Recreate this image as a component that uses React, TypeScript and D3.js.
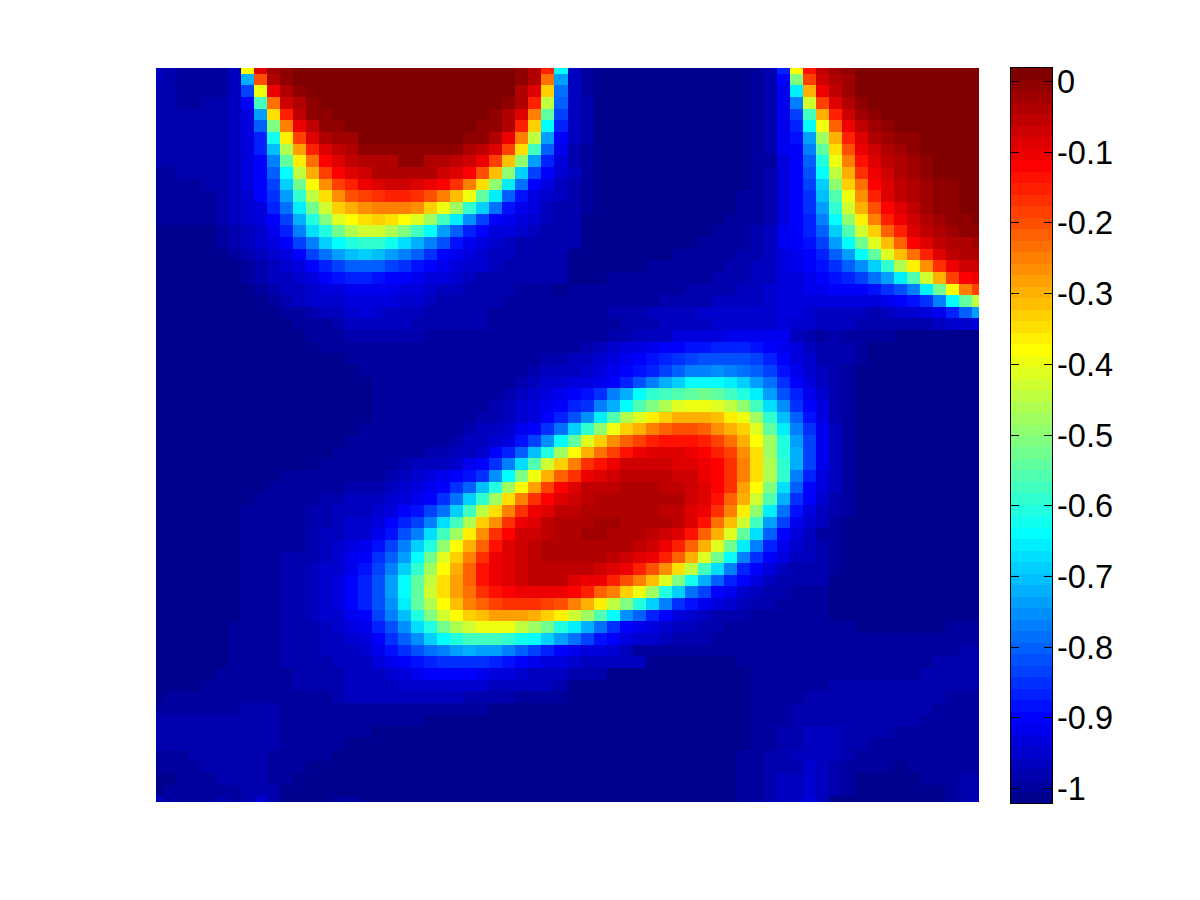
import React from "react";
import * as d3 from "d3";

// Colormap level (0..63 of the 64-level jet map) read for every grid node, row by row.
const row00=[3,2,1,1,1,1,3,39,57,61,62,63,63,63,63,63, 63,63,63,63,63,63,63,63,63,63,63,63,62,60,53,23, 3,1,0,0,0,0,0,0,0,0,0,0,0,0,1,2, 9,39,54,59,61,62,63,63,63,63,63,63,63,63,63,63];
const row01=[3,2,1,1,1,1,3,18,50,60,62,63,63,63,63,63, 63,63,63,63,63,63,63,63,63,63,63,63,62,60,48,17, 3,1,0,0,0,0,0,0,0,0,0,0,0,0,1,2, 7,31,51,58,60,61,63,63,63,63,63,63,63,63,63,63];
const row02=[2,2,1,1,1,1,3,11,38,56,60,62,63,63,63,63, 63,63,63,63,63,63,63,63,63,63,63,63,60,57,42,14, 3,1,0,0,0,0,0,0,0,0,0,0,0,0,1,2, 6,22,44,56,59,61,63,63,63,63,63,63,63,63,63,63];
const row03=[2,2,1,1,2,2,3,7,27,48,58,60,62,63,63,63, 63,63,63,63,63,63,63,63,63,63,63,62,60,53,35,13, 3,2,0,0,0,0,0,0,0,0,0,0,0,0,1,2, 6,15,36,51,57,60,62,63,63,63,63,63,63,63,63,63];
const row04=[2,2,2,2,2,2,3,5,17,41,53,59,62,62,63,63, 63,63,63,63,63,63,63,63,63,63,62,60,57,47,29,11, 3,2,0,0,0,0,0,0,0,0,0,0,0,0,1,2, 6,11,27,44,53,58,61,62,63,63,63,63,63,63,63,63];
const row05=[2,2,2,2,2,2,3,5,13,31,47,56,59,62,62,63, 63,63,63,63,63,63,63,63,63,62,62,60,53,42,23,9, 3,2,0,0,0,0,0,0,0,0,0,0,0,0,1,2, 6,9,23,38,49,56,59,61,62,63,63,63,63,63,63,63];
const row06=[2,2,2,2,2,2,3,5,9,24,40,51,57,60,61,61, 63,63,63,63,63,63,63,63,62,62,60,56,47,35,17,7, 3,2,0,0,0,0,0,0,0,0,0,0,0,0,1,2, 6,8,17,33,44,53,57,60,61,62,62,63,63,63,63,63];
const row07=[2,2,2,2,2,2,3,5,9,19,34,45,53,57,59,60, 62,62,62,62,62,62,62,62,60,59,57,51,41,27,13,6, 2,1,0,0,0,0,0,0,0,0,0,0,0,0,1,2, 6,7,15,29,41,50,56,58,60,61,62,63,63,63,63,63];
const row08=[2,2,2,2,2,2,3,5,7,15,29,40,48,55,57,59, 60,60,60,62,62,60,60,59,58,56,51,43,32,17,9,5, 2,1,0,0,0,0,0,0,0,0,0,0,0,0,1,1, 5,7,13,25,38,47,54,57,59,60,61,62,63,63,63,63];
const row09=[1,1,2,2,2,2,3,5,7,13,23,35,44,51,55,57, 58,60,60,60,60,60,58,57,55,50,43,32,20,11,7,4, 3,1,0,0,0,0,0,0,0,0,0,0,0,0,1,2, 5,7,12,23,35,44,52,56,58,60,61,62,63,63,63,63];
const row10=[1,1,1,1,2,2,3,5,7,11,20,30,39,46,51,53, 56,57,58,58,57,56,55,52,47,41,32,22,14,7,5,3, 2,1,0,0,0,0,0,0,0,0,0,0,0,0,1,2, 5,7,11,20,32,42,48,55,57,59,60,61,62,62,63,63];
const row11=[1,1,1,1,1,2,3,4,7,10,17,26,35,41,46,50, 51,52,53,53,52,50,47,43,38,29,22,13,8,5,4,3, 2,1,0,0,0,0,0,0,0,0,0,0,0,1,1,2, 5,7,10,19,28,38,46,53,57,59,60,61,62,62,63,63];
const row12=[1,1,1,1,1,2,3,4,5,9,14,22,30,36,42,44, 46,47,47,47,46,42,38,33,26,20,14,8,6,5,3,2, 2,1,0,0,0,0,0,0,0,0,0,0,0,1,1,2, 5,7,10,17,26,36,44,50,55,57,59,61,62,62,63,63];
const row13=[1,1,1,1,1,2,3,4,5,7,11,18,25,31,37,39, 41,42,41,39,37,33,27,22,16,11,7,6,5,4,3,2, 2,0,0,0,0,0,0,0,0,0,0,0,1,1,1,2, 5,7,9,15,23,32,40,47,53,56,58,60,61,62,62,63];
const row14=[0,0,0,0,0,1,2,3,4,6,9,15,21,25,30,34, 36,36,34,31,27,23,17,13,9,7,5,5,4,3,2,2, 2,0,0,0,0,0,0,0,0,0,0,1,1,1,2,3, 6,7,9,13,20,28,36,42,49,53,57,59,60,61,62,62];
const row15=[0,0,0,0,0,1,2,3,4,5,7,11,15,20,23,25, 26,26,24,21,18,15,12,8,6,5,4,3,2,2,2,2, 2,0,0,0,0,0,0,0,0,0,1,1,1,1,2,3, 6,7,8,11,17,23,30,37,43,49,55,57,59,60,60,61];
const row16=[0,0,0,0,0,0,1,2,3,4,5,7,11,14,17,19, 20,19,17,15,13,10,7,6,5,4,3,3,2,2,2,2, 0,0,0,0,0,0,0,0,1,1,1,1,1,2,2,3, 5,6,7,9,13,17,23,29,37,43,48,53,57,59,60,60];
const row17=[0,0,0,0,0,0,0,1,2,3,4,5,7,9,11,13, 13,13,11,10,8,7,6,5,4,4,3,2,2,2,2,2, 0,0,0,0,0,0,1,1,1,1,1,1,2,2,3,3, 5,6,7,8,10,13,16,20,26,34,40,46,52,56,58,58];
const row18=[0,0,0,0,0,0,0,1,2,3,3,4,5,7,8,9, 9,8,7,7,6,5,5,4,3,2,2,2,2,2,2,2, 0,0,0,1,1,1,1,1,1,1,1,2,2,2,3,3, 5,5,6,7,8,9,11,14,17,22,28,36,44,51,55,56];
const row19=[0,0,0,0,0,0,0,0,1,2,3,3,4,5,5,6, 6,6,6,5,5,4,3,3,2,2,2,2,1,1,1,0, 1,1,1,1,1,1,1,1,1,2,2,2,2,3,3,4, 5,5,6,6,7,7,7,8,10,12,15,22,30,39,47,51];
const row20=[0,0,0,0,0,0,0,0,0,1,2,3,4,4,4,5, 5,5,5,4,4,3,2,2,2,2,2,1,1,1,1,1, 1,1,1,1,1,1,1,2,2,2,2,3,3,3,3,4, 5,5,5,5,5,5,5,5,6,7,8,10,15,23,29,35];
const row21=[0,0,0,0,0,0,0,0,0,0,1,1,2,3,3,4, 5,4,3,3,3,2,2,2,2,2,1,1,1,1,1,1, 1,1,1,2,2,2,3,3,3,3,4,4,4,4,4,4, 5,5,4,3,3,3,3,2,3,4,4,5,6,9,13,17];
const row22=[0,0,0,0,0,0,0,0,0,0,0,1,1,1,2,3, 3,3,3,3,2,2,2,2,2,2,1,1,1,1,1,1, 1,1,1,1,2,2,2,3,3,3,3,4,4,4,4,4, 5,4,4,3,3,3,2,2,2,2,2,2,3,4,4,5];
const row23=[0,0,0,0,0,0,0,0,0,0,0,0,1,1,1,2, 2,2,2,2,2,1,1,1,1,1,1,1,1,1,1,1, 1,1,1,2,2,3,3,3,5,5,5,5,6,6,6,6, 6,3,2,1,2,1,1,1,1,0,0,0,0,0,0,0];
const row24=[0,0,0,0,0,0,0,0,0,0,0,0,0,1,1,1, 1,1,1,1,1,1,1,1,1,1,1,1,1,1,1,1, 1,2,3,4,5,5,6,7,7,8,8,9,9,9,8,7, 6,5,3,2,2,2,1,0,0,0,0,0,0,0,0,0];
const row25=[0,0,0,0,0,0,0,0,0,0,0,0,0,0,0,1, 1,1,1,1,1,1,1,1,1,1,1,1,1,1,2,2, 3,3,4,5,6,7,8,9,10,11,12,12,12,12,11,9, 7,5,4,2,2,2,1,0,0,0,0,0,0,0,0,0];
const row26=[0,0,0,0,0,0,0,0,0,0,0,0,0,0,0,0, 1,1,1,1,1,1,1,1,1,1,1,1,1,2,3,3, 3,4,5,6,7,8,9,11,13,15,15,16,15,14,13,11, 8,6,4,3,2,1,0,0,0,0,0,0,0,0,0,0];
const row27=[0,0,0,0,0,0,0,0,0,0,0,0,0,0,0,0, 0,1,1,1,1,1,1,1,1,1,1,1,2,3,4,4, 5,5,6,7,9,12,15,18,20,23,23,23,22,20,17,14, 10,7,5,3,2,1,0,0,0,0,0,0,0,0,0,0];
const row28=[0,0,0,0,0,0,0,0,0,0,0,0,0,0,0,0, 0,1,1,1,1,1,1,1,1,1,1,2,3,4,5,6, 7,8,10,15,18,23,26,27,28,29,30,29,27,25,22,17, 12,9,6,4,2,1,0,0,0,0,0,0,0,0,0,0];
const row29=[0,0,0,0,0,0,0,0,0,0,0,0,0,0,0,0, 0,1,1,1,1,1,1,1,1,1,2,3,4,5,6,7, 9,10,15,18,23,28,31,34,37,38,38,37,35,32,27,21, 16,10,7,5,2,1,0,0,0,0,0,0,0,0,0,0];
const row30=[0,0,0,0,0,0,0,0,0,0,0,0,0,0,0,0, 0,1,1,1,1,1,1,1,1,2,2,3,4,5,7,9, 12,16,22,28,34,37,40,42,44,44,44,43,40,38,33,26, 19,13,8,5,2,1,0,0,0,0,0,0,0,0,0,0];
const row31=[0,0,0,0,0,0,0,0,0,0,0,0,0,0,0,0, 1,1,1,1,1,1,1,1,2,3,3,4,6,7,10,14, 20,26,32,38,42,44,47,49,50,50,49,46,44,42,37,29, 22,15,10,6,3,1,0,0,0,0,0,0,0,0,0,0];
const row32=[0,0,0,0,0,0,0,0,0,0,0,0,0,0,0,1, 1,1,1,1,1,1,1,2,3,3,4,5,8,11,16,23, 29,37,42,46,49,51,53,54,54,54,53,51,48,44,39,33, 25,17,11,6,3,1,0,0,0,0,0,0,0,0,0,0];
const row33=[0,0,0,0,0,0,0,0,0,0,0,0,0,0,1,1, 1,1,1,1,1,2,2,3,3,4,7,9,13,19,25,33, 39,44,48,51,54,56,57,57,57,56,55,53,51,46,41,33, 25,18,11,6,3,1,0,0,0,0,0,0,0,0,0,0];
const row34=[0,0,0,0,0,0,0,0,0,0,0,0,0,1,1,1, 1,1,1,2,3,3,3,4,6,7,10,15,21,28,36,42, 47,52,54,56,58,58,58,58,57,57,56,55,52,47,41,34, 26,18,11,6,3,1,0,0,0,0,0,0,0,0,0,0];
const row35=[0,0,0,0,0,0,0,0,0,0,1,1,1,1,1,1, 1,1,2,3,4,5,6,7,8,10,16,23,31,38,44,49, 52,56,57,58,59,59,59,59,58,58,56,55,52,47,41,34, 26,15,9,5,3,1,0,0,0,0,0,0,0,0,0,0];
const row36=[0,0,0,0,0,0,0,0,0,1,1,1,1,1,1,2, 2,2,3,4,5,6,7,10,13,19,25,33,39,45,51,55, 57,59,59,59,60,60,60,59,59,58,57,55,52,45,39,31, 21,13,7,5,3,1,0,0,0,0,0,0,0,0,0,0];
const row37=[0,0,0,0,0,0,0,0,1,1,1,1,1,2,2,3, 3,3,4,5,6,7,10,14,20,26,33,41,47,52,55,57, 58,59,60,60,60,60,60,60,60,58,57,54,49,44,36,28, 18,10,7,4,2,1,0,0,0,0,0,0,0,0,0,0];
const row38=[0,0,0,0,0,0,0,1,1,1,1,1,2,2,3,3, 3,4,5,7,8,11,14,20,27,35,41,47,52,56,57,59, 59,60,60,60,60,60,60,59,59,57,56,52,47,40,32,22, 14,8,5,3,2,1,0,0,0,0,0,0,0,0,0,0];
const row39=[0,0,0,0,0,0,0,1,1,1,1,1,2,2,3,4, 4,5,7,9,11,15,21,27,34,42,46,52,56,57,59,60, 60,60,61,61,60,60,60,60,59,57,54,48,43,36,27,17, 11,6,4,3,1,0,0,0,0,0,0,0,0,0,0,0];
const row40=[0,0,0,0,0,0,0,1,1,1,1,1,2,3,3,4, 4,6,8,12,15,21,27,33,40,46,52,55,58,58,59,60, 60,61,61,60,60,60,59,58,57,54,49,44,37,29,21,13, 7,5,3,1,1,0,0,0,0,0,0,0,0,0,0,0];
const row41=[0,0,0,0,0,0,0,1,1,1,1,1,2,3,4,5, 6,8,11,15,20,25,32,39,44,49,54,57,58,59,60,60, 60,60,60,60,60,59,58,56,53,49,44,37,30,22,15,9, 6,4,3,2,1,0,0,0,0,0,0,0,0,0,0,0];
const row42=[0,0,0,0,0,0,0,1,1,1,2,2,2,3,4,6, 7,10,13,17,23,30,37,42,47,52,56,57,58,59,60,60, 60,60,60,59,58,57,56,53,49,44,37,30,23,15,10,7, 5,3,3,2,1,0,0,0,0,0,0,0,0,0,0,0];
const row43=[0,0,0,0,0,0,0,1,1,1,2,2,3,4,4,6, 8,11,15,20,26,33,39,44,49,54,56,57,58,59,59,59, 59,59,58,57,56,53,50,46,41,35,27,21,15,9,7,5, 3,2,2,2,1,0,0,0,0,0,0,0,0,0,0,0];
const row44=[0,0,0,0,0,0,0,1,1,1,2,2,3,4,5,7, 9,12,17,23,29,35,41,45,49,54,56,57,58,59,59,59, 57,56,56,53,50,47,43,37,31,24,18,13,9,7,5,3, 2,2,2,2,0,0,0,0,0,0,0,0,0,0,0,0];
const row45=[0,0,0,0,0,0,0,1,1,1,2,2,3,4,5,7, 9,12,17,23,29,36,41,45,48,52,54,55,56,56,56,56, 55,53,49,47,42,38,33,25,20,14,11,7,6,4,3,2, 2,1,1,1,0,0,0,0,0,0,0,0,0,0,0,0];
const row46=[0,0,0,0,0,0,0,1,1,1,2,2,3,4,5,7, 9,12,16,22,29,34,39,43,47,49,51,52,52,52,51,50, 47,44,40,35,31,25,20,15,10,8,6,5,4,3,2,2, 1,1,1,1,0,0,0,0,0,0,0,0,0,0,0,0];
const row47=[0,0,0,0,0,0,0,1,1,1,2,2,3,4,4,6, 7,11,15,19,25,31,36,39,42,43,45,45,45,44,42,40, 36,33,28,23,16,13,9,7,5,4,3,2,2,2,1,1, 1,1,1,1,0,0,0,0,0,0,0,0,0,0,0,0];
const row48=[0,0,0,0,0,0,1,1,1,1,2,2,2,3,4,5, 6,9,12,16,21,25,30,34,36,38,38,38,35,33,30,25, 22,18,14,10,7,6,5,4,3,3,2,2,1,1,1,1, 1,1,1,1,1,1,0,0,0,0,0,0,0,1,1,1];
const row49=[0,0,0,0,0,0,1,1,1,1,2,2,2,3,3,4, 5,7,10,13,16,20,23,25,27,27,27,26,24,23,20,17, 14,11,8,7,5,4,4,3,2,2,2,1,1,1,1,1, 1,1,1,1,1,1,1,1,1,1,1,1,1,1,1,1];
const row50=[0,0,0,0,0,0,1,1,1,1,2,2,2,3,3,3, 4,6,8,10,12,14,15,17,18,17,17,15,13,11,9,7, 6,5,5,4,3,1,1,1,1,1,1,1,1,1,1,1, 1,1,1,1,1,1,1,1,1,1,1,1,1,1,2,2];
const row51=[0,0,0,0,0,0,1,1,1,1,2,2,2,2,3,3, 3,5,6,7,8,9,10,10,10,10,9,8,7,6,5,5, 4,3,3,3,3,3,0,0,0,0,0,0,0,1,1,1, 1,1,1,1,1,1,1,1,1,1,1,1,2,2,2,2];
const row52=[0,0,0,0,0,1,1,1,1,1,1,2,2,2,2,3, 3,3,4,5,6,7,7,7,7,6,5,5,4,3,3,3, 2,2,2,0,0,0,0,0,0,0,0,0,0,0,1,1, 1,1,1,1,1,1,1,1,1,1,1,2,2,2,2,2];
const row53=[0,0,0,0,1,1,1,1,1,1,1,2,2,2,2,3, 3,3,3,4,4,4,4,4,4,4,3,3,3,3,3,2, 0,0,0,0,0,0,0,0,0,0,0,0,0,0,1,1, 1,1,1,1,2,2,2,2,2,2,2,2,2,2,2,2];
const row54=[0,1,1,1,1,1,1,1,1,1,1,1,1,1,2,3, 3,3,3,3,3,3,3,3,2,2,2,2,1,1,1,1, 0,0,0,0,0,0,0,0,0,0,0,0,0,0,1,1, 1,1,2,2,2,2,2,2,2,2,2,2,2,1,1,1];
const row55=[1,1,1,1,1,1,1,2,2,2,1,1,1,1,1,1, 1,1,1,1,1,1,1,1,1,1,0,0,0,0,0,0, 0,0,0,0,0,0,0,0,0,0,0,0,0,0,1,1, 1,2,2,2,2,2,2,2,2,2,2,2,1,1,1,1];
const row56=[2,2,2,2,2,2,2,2,2,2,1,1,1,1,1,1, 1,1,1,1,1,0,0,0,0,0,0,0,0,0,0,0, 0,0,0,0,0,0,0,0,0,0,0,0,0,0,1,1, 1,2,2,2,2,2,2,2,2,2,2,1,1,1,1,1];
const row57=[2,2,2,2,2,2,2,2,2,2,1,1,1,1,1,1, 1,0,0,0,0,0,0,0,0,0,0,0,0,0,0,0, 0,0,0,0,0,0,0,0,0,0,0,0,0,0,1,1, 2,2,3,3,3,2,2,2,2,1,1,1,1,1,1,1];
const row58=[2,2,2,2,2,2,2,2,2,2,1,1,1,1,1,0, 0,0,0,0,0,0,0,0,0,0,0,0,0,0,0,0, 0,0,0,0,0,0,0,0,0,0,0,0,0,0,1,1, 2,2,3,3,3,2,2,1,1,1,1,1,1,1,1,1];
const row59=[1,1,1,2,2,2,2,2,2,1,1,1,1,1,0,0, 0,0,0,0,0,0,0,0,0,0,0,0,0,0,0,0, 0,0,0,0,0,0,0,0,0,0,0,0,0,1,1,2, 2,3,3,3,3,2,1,1,1,1,1,1,1,1,1,1];
const row60=[1,1,1,1,2,2,2,2,2,1,1,1,0,0,0,0, 0,0,0,0,0,0,0,0,0,0,0,0,0,0,0,0, 0,0,0,0,0,0,0,0,0,0,0,0,0,1,1,2, 2,2,4,3,2,1,1,1,1,0,1,1,1,1,1,1];
const row61=[0,0,1,1,1,2,2,2,2,1,1,0,0,0,0,0, 0,0,0,0,0,0,0,0,0,0,0,0,0,0,0,0, 0,0,0,0,0,0,0,0,0,0,0,0,0,1,1,2, 3,3,4,3,2,1,0,0,0,0,0,1,1,1,2,2];
const row62=[0,1,1,1,1,1,1,2,2,2,0,0,0,0,0,0, 0,0,0,0,0,0,0,0,0,0,0,0,0,0,0,0, 0,0,0,0,0,0,0,0,0,0,0,0,0,1,1,2, 3,3,4,3,2,1,0,0,0,0,0,0,0,1,2,2];
const row63=[3,1,1,1,1,2,1,2,4,2,0,0,0,0,1,1, 0,0,0,0,0,0,0,0,0,0,0,0,0,0,0,0, 0,0,0,0,0,0,0,0,0,0,0,0,0,1,1,2, 3,3,5,3,0,0,0,0,0,0,0,0,0,1,2,3];

const grid = [row00,row01,row02,row03,row04,row05,row06,row07,row08,row09,row10,row11,row12,row13,row14,row15,
  row16,row17,row18,row19,row20,row21,row22,row23,row24,row25,row26,row27,row28,row29,row30,row31,
  row32,row33,row34,row35,row36,row37,row38,row39,row40,row41,row42,row43,row44,row45,row46,row47,
  row48,row49,row50,row51,row52,row53,row54,row55,row56,row57,row58,row59,row60,row61,row62,row63];

const tickValues = [0, -0.1, -0.2, -0.3, -0.4, -0.5, -0.6, -0.7, -0.8, -0.9, -1];
const tickLabels = ["0", "-0.1", "-0.2", "-0.3", "-0.4", "-0.5", "-0.6", "-0.7", "-0.8", "-0.9", "-1"];
const levelCount = 64;
const colorDomain = [-1.021, 0.0184];

const plot = { left: 156, right: 979, top: 68, bottom: 802 };
const bar = { left: 1011, right: 1052, top: 68, bottom: 803 };

const jet = d3.scaleLinear<string>()
  .domain([0, 7, 23, 39, 55, 63])
  .range(["rgb(0,0,143)", "rgb(0,0,255)", "rgb(0,255,255)", "rgb(255,255,0)", "rgb(255,0,0)", "rgb(128,0,0)"])
  .interpolate(d3.interpolateRgb.gamma(1));

export default function App() {
  const nRows = grid.length;
  const nCols = row00.length;
  const x = d3.scaleLinear().domain([0, nCols - 1]).range([plot.left, plot.right]);
  const y = d3.scaleLinear().domain([0, nRows - 1]).range([plot.top, plot.bottom]);
  const cy = d3.scaleLinear().domain(colorDomain).range([bar.bottom, bar.top]);
  const levels = d3.range(levelCount);
  const barBand = d3.scaleBand<number>().domain(levels.slice().reverse()).range([bar.top, bar.bottom]);

  const cells: React.ReactElement[] = [];
  grid.forEach((row, r) => {
    const y0 = Math.max(plot.top, Math.round(y(r - 0.5)));
    const y1 = Math.min(plot.bottom, Math.round(y(r + 0.5)));
    row.forEach((lev, c) => {
      const x0 = Math.max(plot.left, Math.round(x(c - 0.5)));
      const x1 = Math.min(plot.right, Math.round(x(c + 0.5)));
      cells.push(<rect key={r + "-" + c} x={x0} y={y0} width={x1 - x0} height={y1 - y0} fill={jet(lev)} />);
    });
  });

  return (
    <svg
      width={1200}
      height={900}
      viewBox="0 0 1200 900"
      style={{ position: "absolute", left: 0, top: 0, background: "#fff" }}
      shapeRendering="crispEdges"
    >
      <g>{cells}</g>
      <g>
        {levels.map((l) => (
          <rect key={l} x={bar.left} y={barBand(l)!} width={bar.right - bar.left} height={barBand.bandwidth() + 0.5} fill={jet(l)} />
        ))}
        <rect x={bar.left - 0.5} y={bar.top - 0.5} width={bar.right - bar.left + 1} height={bar.bottom - bar.top + 1} fill="none" stroke="#000" strokeWidth={1} />
        {tickValues.map((v, i) => {
          const ty = Math.round(cy(v)) + 0.5;
          return (
            <g key={i}>
              <line x1={bar.left} x2={bar.left + 8} y1={ty} y2={ty} stroke="#000" />
              <line x1={bar.right - 8} x2={bar.right} y1={ty} y2={ty} stroke="#000" />
              <text x={1057} y={ty + 11} fontFamily="'Liberation Sans', Arial, sans-serif" fontSize={32.5} fill="#000">
                {tickLabels[i]}
              </text>
            </g>
          );
        })}
      </g>
    </svg>
  );
}
